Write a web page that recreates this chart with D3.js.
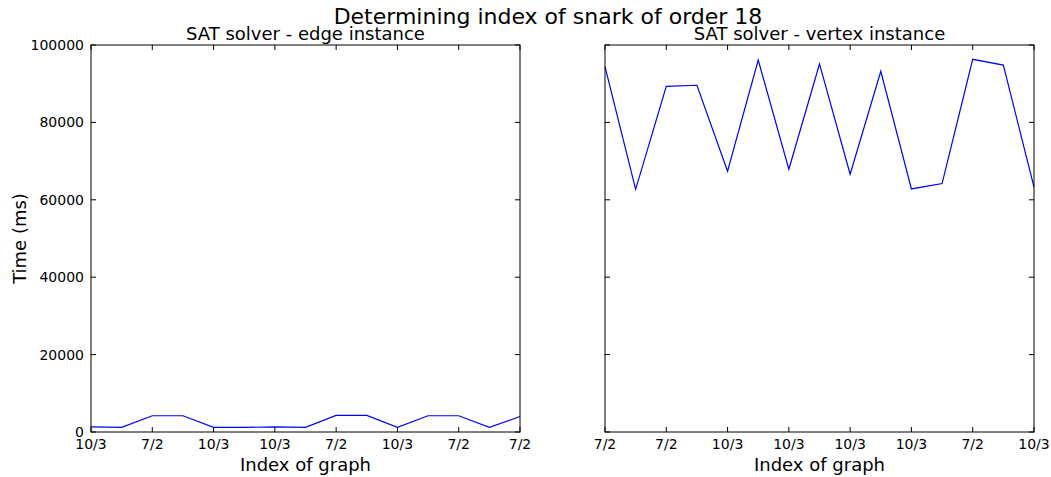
<!DOCTYPE html>
<html>
<head>
<meta charset="utf-8">
<script src="https://cdn.jsdelivr.net/npm/d3@7"></script>
<style>
  body { margin: 0; background: #fff; }
  text { font-family: "DejaVu Sans", sans-serif; fill: #000; }
</style>
</head>
<body>
<script>
// data
var edgeTimes = [1300, 1200, 4200, 4200, 1200, 1200, 1300, 1200, 4300, 4300, 1200, 4200, 4200, 1200, 4000];
var vertexTimes = [94400, 62700, 89300, 89600, 67400, 96100, 67900, 95100, 66600, 93200, 62800, 64200, 96300, 94800, 63300];
var edgeTickLabels = ["10/3", "7/2", "10/3", "10/3", "7/2", "10/3", "7/2", "7/2"];
var vertexTickLabels = ["7/2", "7/2", "10/3", "10/3", "10/3", "10/3", "7/2", "10/3"];
var xTicks = [0, 2, 4, 6, 8, 10, 12, 14];
var yTicks = [0, 20000, 40000, 60000, 80000, 100000];

var W = 1051, H = 477;
var plotTop = 45, plotBottom = 432;

var svg = d3.select("body").append("svg")
    .attr("width", W)
    .attr("height", H);

svg.append("text")
    .attr("x", 548)
    .attr("y", 24)
    .attr("text-anchor", "middle")
    .style("font-size", "22px")
    .text("Determining index of snark of order 18");

var y = d3.scaleLinear().domain([0, 100000]).range([plotBottom, plotTop]);

function panel(left, right, values, labels, title, showY) {
    var x = d3.scaleLinear().domain([0, 14]).range([left, right]);

    // inward ticks on all four sides
    var g = svg.append("g");
    xTicks.forEach(function(t) {
        g.append("line").attr("x1", x(t)).attr("x2", x(t)).attr("y1", plotBottom).attr("y2", plotBottom - 5)
            .attr("stroke", "#000");
        g.append("line").attr("x1", x(t)).attr("x2", x(t)).attr("y1", plotTop).attr("y2", plotTop + 5)
            .attr("stroke", "#000");
    });
    yTicks.forEach(function(t) {
        g.append("line").attr("x1", left).attr("x2", left + 5).attr("y1", y(t)).attr("y2", y(t))
            .attr("stroke", "#000");
        g.append("line").attr("x1", right).attr("x2", right - 5).attr("y1", y(t)).attr("y2", y(t))
            .attr("stroke", "#000");
    });

    // x tick labels
    g.selectAll(".xl").data(xTicks).enter().append("text")
        .attr("x", function(d) { return x(d); })
        .attr("y", plotBottom + 17)
        .attr("text-anchor", "middle")
        .style("font-size", "14px")
        .text(function(d, i) { return labels[i]; });

    if (showY) {
        g.selectAll(".yl").data(yTicks).enter().append("text")
            .attr("x", left - 7)
            .attr("y", function(d) { return y(d) + 5; })
            .attr("text-anchor", "end")
            .style("font-size", "14px")
            .text(function(d) { return d; });
    }

    var line = d3.line()
        .x(function(d, i) { return x(i); })
        .y(function(d) { return y(d); });

    g.append("path")
        .datum(values)
        .attr("fill", "none")
        .attr("stroke", "#0000ff")
        .attr("stroke-width", 1.2)
        .attr("d", line);

    g.append("rect")
        .attr("x", left).attr("y", plotTop)
        .attr("width", right - left).attr("height", plotBottom - plotTop)
        .attr("fill", "none")
        .attr("stroke", "#000")
        .attr("stroke-width", 1);

    g.append("text")
        .attr("x", (left + right) / 2)
        .attr("y", plotTop - 5)
        .attr("text-anchor", "middle")
        .style("font-size", "18px")
        .text(title);

    g.append("text")
        .attr("x", (left + right) / 2)
        .attr("y", plotBottom + 39)
        .attr("text-anchor", "middle")
        .style("font-size", "18px")
        .text("Index of graph");
}

panel(91, 520, edgeTimes, edgeTickLabels, "SAT solver - edge instance", true);
panel(605, 1034, vertexTimes, vertexTickLabels, "SAT solver - vertex instance", false);

svg.append("text")
    .attr("transform", "translate(26," + (plotTop + plotBottom) / 2 + ") rotate(-90)")
    .attr("text-anchor", "middle")
    .style("font-size", "18px")
    .text("Time (ms)");
</script>
</body>
</html>
